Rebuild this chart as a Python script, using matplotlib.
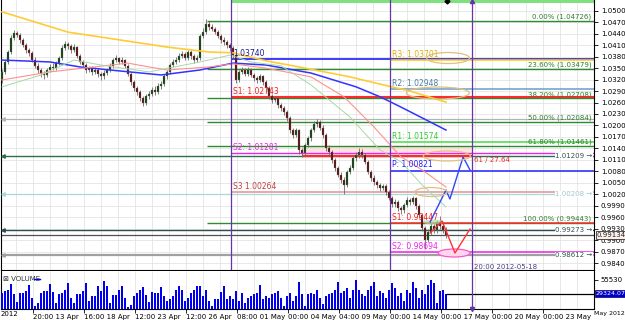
### EURCHF-style H4 chart with pivots, fibs and volume
import numpy as np
import matplotlib
matplotlib.use("Agg")
import matplotlib.pyplot as plt
from matplotlib.patches import Ellipse, Rectangle

### Candle data (H4 bars, oldest first)
first_open = 1.0320
closes = [1.0340, 1.0366, 1.0392, 1.0429, 1.0442, 1.0437, 1.0423, 1.0410, 1.0397, 1.0390,
          1.0371, 1.0356, 1.0345, 1.0335, 1.0332, 1.0345, 1.0353, 1.0350, 1.0363, 1.0376,
          1.0403, 1.0413, 1.0408, 1.0397, 1.0405, 1.0382, 1.0366, 1.0358, 1.0345, 1.0350,
          1.0340, 1.0345, 1.0335, 1.0329, 1.0337, 1.0345, 1.0356, 1.0371, 1.0376, 1.0366,
          1.0371, 1.0356, 1.0335, 1.0314, 1.0298, 1.0288, 1.0272, 1.0259, 1.0277, 1.0282,
          1.0293, 1.0288, 1.0303, 1.0309, 1.0329, 1.0340, 1.0358, 1.0366, 1.0371, 1.0382,
          1.0387, 1.0376, 1.0392, 1.0382, 1.0371, 1.0376, 1.0434, 1.0444, 1.0465, 1.0457,
          1.0452, 1.0444, 1.0434, 1.0423, 1.0418, 1.0410, 1.0403, 1.0384, 1.0319, 1.0340,
          1.0345, 1.0335, 1.0345, 1.0332, 1.0324, 1.0319, 1.0329, 1.0314, 1.0298, 1.0277,
          1.0267, 1.0272, 1.0254, 1.0246, 1.0235, 1.0220, 1.0188, 1.0175, 1.0188, 1.0136,
          1.0128, 1.0149, 1.0167, 1.0188, 1.0204, 1.0209, 1.0194, 1.0175, 1.0141, 1.0131,
          1.0110, 1.0089, 1.0071, 1.0058, 1.0045, 1.0079, 1.0089, 1.0115, 1.0123, 1.0131,
          1.0123, 1.0105, 1.0079, 1.0063, 1.0052, 1.0045, 1.0037, 1.0042, 1.0026, 1.0011,
          0.9995, 1.0000, 0.9985, 0.9979, 0.9992, 1.0005, 1.0000, 1.0011, 0.9990, 0.9966,
          0.9932, 0.9901, 0.9922, 0.9937, 0.9927, 0.9948, 0.9937, 0.9927, 0.9913]
highs = [1.0348, 1.0372, 1.0398, 1.0436, 1.0450, 1.0448, 1.0441, 1.0428, 1.0415, 1.0403,
         1.0395, 1.0378, 1.0362, 1.0350, 1.0342, 1.0350, 1.0360, 1.0362, 1.0368, 1.0382,
         1.0410, 1.0420, 1.0418, 1.0412, 1.0412, 1.0408, 1.0386, 1.0372, 1.0362, 1.0356,
         1.0355, 1.0352, 1.0350, 1.0340, 1.0344, 1.0350, 1.0362, 1.0377, 1.0384, 1.0380,
         1.0378, 1.0375, 1.0360, 1.0340, 1.0320, 1.0304, 1.0294, 1.0278, 1.0282, 1.0290,
         1.0300, 1.0302, 1.0310, 1.0316, 1.0335, 1.0346, 1.0364, 1.0374, 1.0380, 1.0390,
         1.0395, 1.0392, 1.0398, 1.0396, 1.0388, 1.0384, 1.0440, 1.0455, 1.0478, 1.0472,
         1.0466, 1.0458, 1.0450, 1.0440, 1.0430, 1.0424, 1.0416, 1.0408, 1.0390, 1.0346,
         1.0352, 1.0350, 1.0352, 1.0350, 1.0338, 1.0330, 1.0335, 1.0333, 1.0318, 1.0302,
         1.0282, 1.0278, 1.0276, 1.0260, 1.0252, 1.0240, 1.0226, 1.0194, 1.0194, 1.0192,
         1.0142, 1.0155, 1.0172, 1.0194, 1.0212, 1.0218, 1.0214, 1.0200, 1.0180, 1.0148,
         1.0136, 1.0115, 1.0094, 1.0078, 1.0064, 1.0084, 1.0096, 1.0120, 1.0130, 1.0142,
         1.0138, 1.0128, 1.0110, 1.0084, 1.0070, 1.0058, 1.0050, 1.0048, 1.0046, 1.0032,
         1.0016, 1.0008, 1.0004, 0.9990, 0.9998, 1.0012, 1.0010, 1.0016, 1.0014, 0.9994,
         0.9970, 0.9938, 0.9928, 0.9944, 0.9942, 0.9954, 0.9962, 0.9944, 0.9934]
lows = [1.0312, 1.0334, 1.0360, 1.0388, 1.0424, 1.0430, 1.0416, 1.0404, 1.0390, 1.0382,
        1.0365, 1.0350, 1.0338, 1.0327, 1.0322, 1.0326, 1.0340, 1.0344, 1.0346, 1.0358,
        1.0372, 1.0398, 1.0400, 1.0390, 1.0392, 1.0376, 1.0360, 1.0350, 1.0338, 1.0340,
        1.0332, 1.0334, 1.0326, 1.0320, 1.0322, 1.0332, 1.0340, 1.0350, 1.0366, 1.0360,
        1.0360, 1.0350, 1.0328, 1.0306, 1.0290, 1.0280, 1.0264, 1.0250, 1.0254, 1.0270,
        1.0276, 1.0280, 1.0283, 1.0296, 1.0304, 1.0322, 1.0335, 1.0352, 1.0360, 1.0366,
        1.0376, 1.0370, 1.0370, 1.0375, 1.0364, 1.0365, 1.0372, 1.0428, 1.0440, 1.0450,
        1.0446, 1.0438, 1.0428, 1.0416, 1.0410, 1.0402, 1.0395, 1.0376, 1.0312, 1.0314,
        1.0334, 1.0328, 1.0330, 1.0326, 1.0316, 1.0310, 1.0314, 1.0306, 1.0290, 1.0270,
        1.0260, 1.0262, 1.0246, 1.0238, 1.0228, 1.0212, 1.0180, 1.0168, 1.0170, 1.0126,
        1.0118, 1.0122, 1.0144, 1.0160, 1.0182, 1.0196, 1.0188, 1.0168, 1.0134, 1.0124,
        1.0102, 1.0082, 1.0064, 1.0050, 1.0022, 1.0040, 1.0072, 1.0084, 1.0108, 1.0116,
        1.0116, 1.0098, 1.0072, 1.0056, 1.0044, 1.0036, 1.0028, 1.0030, 1.0018, 1.0004,
        0.9986, 0.9988, 0.9976, 0.9968, 0.9972, 0.9986, 0.9992, 0.9994, 0.9982, 0.9958,
        0.9924, 0.9876, 0.9894, 0.9914, 0.9918, 0.9920, 0.9930, 0.9920, 0.9906]
volumes = [30900, 33900, 37000, 48100, 27800, 14300, 30900, 30900, 35200, 46300,
           21700, 6100, 11100, 30900, 33900, 33900, 48100, 32800, 12400, 27800,
           30900, 37000, 49400, 21700, 12400, 27800, 27800, 35200, 49400, 15400,
           24600, 24600, 43100, 33900, 53700, 43100, 12400, 26500, 26500, 37000,
           44400, 21700, 4300, 7400, 24600, 30900, 37000, 41300, 26500, 13500,
           32800, 30900, 30900, 42000, 24600, 15400, 18500, 24600, 37000, 44400,
           37000, 15400, 21700, 30900, 37000, 44400,
           43100, 24600, 37000, 15400, 6100, 18500, 18500, 32000, 43100, 18500,
           24600, 18500, 33900, 15400, 30900, 12400, 21700, 24600, 29600, 30900,
           46300, 18500, 24600, 21700, 27800, 30900, 33900, 21700, 6100, 24600,
           30900, 15400, 24600, 52400, 27800, 6100, 27800, 30900, 29600, 37000,
           21700, 9300, 24600, 27800, 30900, 37000, 52400, 30900, 33900, 40200,
           21700, 37000, 55500, 37000, 27800, 24600, 37000, 43100, 52400, 24600,
           33900, 30900, 21700, 37000, 49400, 40200, 24600,
           30900, 15400, 37000, 30900, 52400, 40200, 21700, 37000, 27800, 46300,
           55500, 49400, 12400, 33900, 37000, 29324]

### Moving averages (bar index, price)
ma_yellow_idx = [0, 22, 44, 55, 69, 77, 88, 99, 116, 126, 136, 148]
ma_yellow = [1.0497, 1.0444, 1.0418, 1.0405, 1.0392, 1.0390, 1.0369, 1.0353, 1.0327, 1.0308, 1.0290, 1.0261]
ma_blue_idx = [0, 16, 26, 36, 53, 66, 77, 88, 103, 118, 126, 133, 148]
ma_blue = [1.0371, 1.0366, 1.0353, 1.0345, 1.0332, 1.0345, 1.0363, 1.0358, 1.0337, 1.0301, 1.0275, 1.0248, 1.0188]
ma_red_idx = [0, 16, 42, 49, 55, 69, 77, 88, 103, 114, 124, 133, 140, 148]
ma_red = [1.0319, 1.0340, 1.0363, 1.0353, 1.0345, 1.0353, 1.0361, 1.0350, 1.0327, 1.0275, 1.0196, 1.0118, 1.0084, 1.0039]
ma_green_idx = [0, 13, 24, 33, 49, 66, 76, 83, 93, 103, 116, 126, 133, 140, 148]
ma_green = [1.0301, 1.0332, 1.0371, 1.0358, 1.0340, 1.0366, 1.0384, 1.0366, 1.0356, 1.0306, 1.0222, 1.0136, 1.0105, 1.0045, 0.9987]

### Pivot levels
prev_week_start = 76.33
cur_week_start = 129.33
forecast_end = 156.67
prev_names = ['1.03740', 'S1: 1.02743', 'S2: 1.01281', 'S3 1.00264']
prev_levels = [1.03740, 1.02743, 1.01281, 1.00264]
cur_names = ['R3: 1.03701', 'R2: 1.02948', 'R1: 1.01574', 'P: 1.00821', 'S1: 0.99447', 'S2: 0.98694']
cur_levels = [1.03701, 1.02948, 1.01574, 1.00821, 0.99447, 0.98694]

### Fibonacci retracement from the swing high
fib_start = 68.5
fib_pct = ['0.00%', '23.60%', '38.20%', '50.00%', '61.80%', '100.00%']
fib_levels = [1.04726, 1.03479, 1.02708, 1.02084, 1.01461, 0.99443]

### Full-width horizontal lines
hline_levels = [1.02180, 1.01209, 1.00208, 0.99273, 0.98612]
hline_tags = ['', '1.01209', '1.00208', '0.99273', '0.98612']
cur_price = 0.99134
cur_volume = 29324.07

### Zone, projections and marks
zone_x = [100, 156.67]
zone_y = [1.01282, 1.01465]
zone_line = 1.01201
proj_blue_idx = [142.7, 148, 149.3, 153.7, 156]
proj_blue = [0.99476, 1.00312, 1.00077, 1.01175, 1.00835]
proj_red_idx = [142.7, 146.7, 151, 156]
proj_red = [0.99188, 0.99502, 0.98665, 0.99293]
ell_idx = [148.7, 145.3, 148.3, 143.0]
ell_price = [1.03763, 1.02848, 1.01201, 1.00260]
ell_w = [14.3, 21.0, 15.7, 10.7]
ell_h = [0.00288, 0.00314, 0.00261, 0.00235]

date_pos = [10.33, 27.33, 44.33, 61.33, 78.33, 95.33, 112.33, 129.33, 146.33, 163.33, 180.33]
date_labels = ['20:00 13 Apr', '16:00 18 Apr', '12:00 23 Apr', '12:00 26 Apr', '08:00 01 May',
               '00:00 04 May', '04:00 09 May', '00:00 14 May', '00:00 17 May', '00:00 20 May',
               '00:00 23 May']

### Figure
W, H = 625, 320
fig = plt.figure(figsize=(W / 100, H / 100), dpi=100)
ax = fig.add_axes([1 / W, (H - 270) / H, 593 / W, 270 / H])
axv = fig.add_axes([1 / W, (H - 309) / H, 593 / W, 38 / H], sharex=ax)
FS = 5

xmax = 197.33
ax.set_xlim(-0.33, xmax)
ax.set_ylim(0.98221, 1.05280)
axv.set_ylim(0, 72760)

# grid
grid_x = 10.33 + 5.667 * np.arange(-2, 34)
for a in (ax, axv):
    a.vlines(grid_x, 0, 1, transform=a.get_xaxis_transform(), color='#e4e4e4', lw=0.6, zorder=0)
yt = np.round(np.arange(0.9840, 1.05005, 0.003), 4)
ax.set_yticks(yt)
ax.set_yticklabels(['%.4f' % v for v in yt])
ax.hlines(yt, -1, xmax, color='#e4e4e4', lw=0.6, zorder=0)

for a in (ax, axv):
    a.yaxis.tick_right()
    a.tick_params(axis='y', labelsize=FS, length=3, pad=2, width=0.6)
    for s in a.spines.values():
        s.set_linewidth(0.8)
    a.spines['top'].set_visible(False)
ax.tick_params(axis='x', bottom=False, labelbottom=False)
axv.set_xticks(date_pos)
axv.set_xticklabels(date_labels)
axv.tick_params(axis='x', labelsize=FS, length=3, pad=0.3, width=0.6)
for t in axv.get_xticklabels():
    t.set_ha('left')
axv.set_yticks([55530])
axv.set_yticklabels(['55530'])

# full-width lines
hl_col = ['#b4b4b4', '#2f6f4f', '#a8d8d8', '#2f4f4f', '#a0a0a0']
hl_lw = [0.9, 1.0, 0.9, 1.0, 1.6]
for lev, tag, c, lw in zip(hline_levels, hline_tags, hl_col, hl_lw):
    ax.hlines(lev, -1, xmax, color=c, lw=lw, zorder=2)
    ax.plot(0.4, lev, marker='<', ms=2.5, color=c, zorder=5)
    if tag:
        tc = '#a0c8c8' if tag == '1.00208' else '#2f4f4f'
        ax.text(xmax - 0.6, lev, tag + ' →', fontsize=FS, color=tc, ha='right', va='center',
                bbox=dict(fc='white', ec='none', pad=0.3), zorder=6)
ax.hlines(cur_price, -1, xmax, color='#505050', lw=0.9, zorder=2)

# fib lines
for pct, lev in zip(fib_pct, fib_levels):
    ax.hlines(lev, fib_start, xmax, color='#2e8b2e', lw=1.0, zorder=2)
    ax.text(xmax - 0.8, lev + 0.0002, '%s (%.5f)' % (pct, lev), fontsize=FS, color='#2e7d2e',
            ha='right', va='bottom', zorder=6)

# top green bar
ax.hlines(1.05241, prev_week_start, xmax, color='#80e080', lw=2.2, zorder=2)

# zone
ax.add_patch(Rectangle((zone_x[0], zone_y[0]), zone_x[1] - zone_x[0], zone_y[1] - zone_y[0],
                       fc='#ffd6d6', ec='none', alpha=0.7, zorder=1))
ax.hlines(zone_line, zone_x[0], zone_x[1], color='#ff2a2a', lw=1.6, zorder=3)

# previous week pivots
prev_col = ['#1a1aff', '#ff2a2a', '#ee22ee', '#e8a8a8']
prev_txt = ['#1a1a90', '#ee2222', '#ee22ee', '#c04040']
prev_lw = [1.2, 1.5, 1.0, 1.4]
for name, lev, c, tc, lw in zip(prev_names, prev_levels, prev_col, prev_txt, prev_lw):
    ax.hlines(lev, prev_week_start, xmax, color=c, lw=lw, zorder=2)
    ax.text(prev_week_start + 0.7, lev + 0.0003, name, fontsize=FS + 0.5, color=tc,
            ha='left', va='bottom', zorder=6)

# current week pivots
cur_col = ['#ffcc00', '#6a9ec8', '#44dd44', '#2222ff', '#ff2a2a', '#ee22ee']
cur_txt = ['#e0b000', '#4a7ea8', '#33cc33', '#2222ff', '#ee2222', '#ee22ee']
for name, lev, c, tc in zip(cur_names, cur_levels, cur_col, cur_txt):
    ax.hlines(lev, cur_week_start, xmax, color=c, lw=1.1, zorder=2)
    ax.text(cur_week_start + 0.7, lev + 0.0003, name, fontsize=FS + 0.5, color=tc,
            ha='left', va='bottom', zorder=6)

# candles
opens = [first_open] + closes[:-1]
idx = np.arange(len(closes))
for i, o, h, l, c in zip(idx, opens, highs, lows, closes):
    ax.vlines(i, l, h, color='#6a6a6a', lw=0.6, zorder=3)
    col = '#0f3f0f' if c >= o else '#5a0c0c'
    ax.bar(i, max(abs(c - o), 0.00008), bottom=min(o, c), width=0.75, color=col,
           edgecolor='#7a7a7a', linewidth=0.2, zorder=3.5)

# moving averages
ax.plot(ma_yellow_idx, ma_yellow, color='#ffcc33', lw=1.2, zorder=4)
ax.plot(ma_blue_idx, ma_blue, color='#3333ff', lw=1.1, zorder=4)
ax.plot(ma_red_idx, ma_red, color='#ff9090', lw=0.8, zorder=4)
ax.plot(ma_green_idx, ma_green, color='#a8d8a8', lw=0.7, zorder=4)

# projections
ax.plot(proj_blue_idx, proj_blue, color='#3344ff', lw=1.0, zorder=5)
ax.plot(proj_red_idx, proj_red, color='#ff3333', lw=1.0, zorder=5)
for x0, y0, w, h in zip(ell_idx, ell_price, ell_w, ell_h):
    ax.add_patch(Ellipse((x0, y0), w, h, fc='none', ec='#e0c080', lw=0.9, zorder=5))
ax.add_patch(Ellipse((150.7, 0.98665), 10.7, 0.00209, fc='#ffd8f0', ec='#ff55cc', lw=0.9, zorder=4.5))
ax.add_patch(Ellipse((143.7, 0.99476), 6.7, 0.0013, fc='#a8e0a8', ec='none', alpha=0.7, zorder=4.5))
ax.text(157.3, 1.01099, '61 / 27.64', fontsize=FS, color='#ee2222', ha='left', va='center', zorder=6)
ax.text(157.3, 0.98303, '20:00 2012-05-18', fontsize=FS, color='#483d8b', ha='left', va='center', zorder=6)

# week separators
for xv in (prev_week_start, cur_week_start):
    ax.axvline(xv, color='#6633aa', lw=0.9, zorder=5)
ax.axvline(forecast_end, color='#6633aa', lw=0.9, zorder=5)
axv.axvline(forecast_end, color='#6633aa', lw=0.9, zorder=5)
ax.plot(forecast_end, 1.0526, marker='^', ms=3, color='#6633aa', zorder=6, clip_on=False)
axv.plot(forecast_end, 800, marker='v', ms=3, color='#6633aa', zorder=6, clip_on=False)
ax.plot(148.3, 1.0526, marker='D', ms=2.5, color='black', zorder=6, clip_on=False)

# current price box
ax.text(1.004, cur_price, '%.5f' % cur_price, transform=ax.get_yaxis_transform(), fontsize=FS,
        ha='left', va='center', color='#222222',
        bbox=dict(fc='#fff0ea', ec='#333333', lw=0.6, pad=0.6), zorder=10, clip_on=False)

# volume panel
axv.bar(idx, volumes, width=0.55, color='#0000ee', zorder=3)
axv.hlines(cur_volume, idx[-1], xmax, color='black', lw=0.9, zorder=3)
axv.text(1.003, cur_volume, '%.2f' % cur_volume, transform=axv.get_yaxis_transform(), fontsize=4.5,
         ha='left', va='center', color='white',
         bbox=dict(fc='#0000cc', ec='#000066', lw=0.5, pad=0.5), zorder=10, clip_on=False)
axv.text(0.004, 0.80, '⊠ VOLUME', transform=axv.transAxes, fontsize=FS, color='#333333',
         ha='left', va='center', zorder=6)
axv.plot([0.056, 0.066], [0.80, 0.80], transform=axv.transAxes, color='#0000ee', lw=1, zorder=6)

fig.text(594 / W, 1 - 314 / H, 'May 2012', fontsize=4.5, ha='left', va='center')
fig.text(1 / W, 1 - 314 / H, '2012', fontsize=FS, ha='left', va='center')

fig.savefig('out.png', dpi=100)
